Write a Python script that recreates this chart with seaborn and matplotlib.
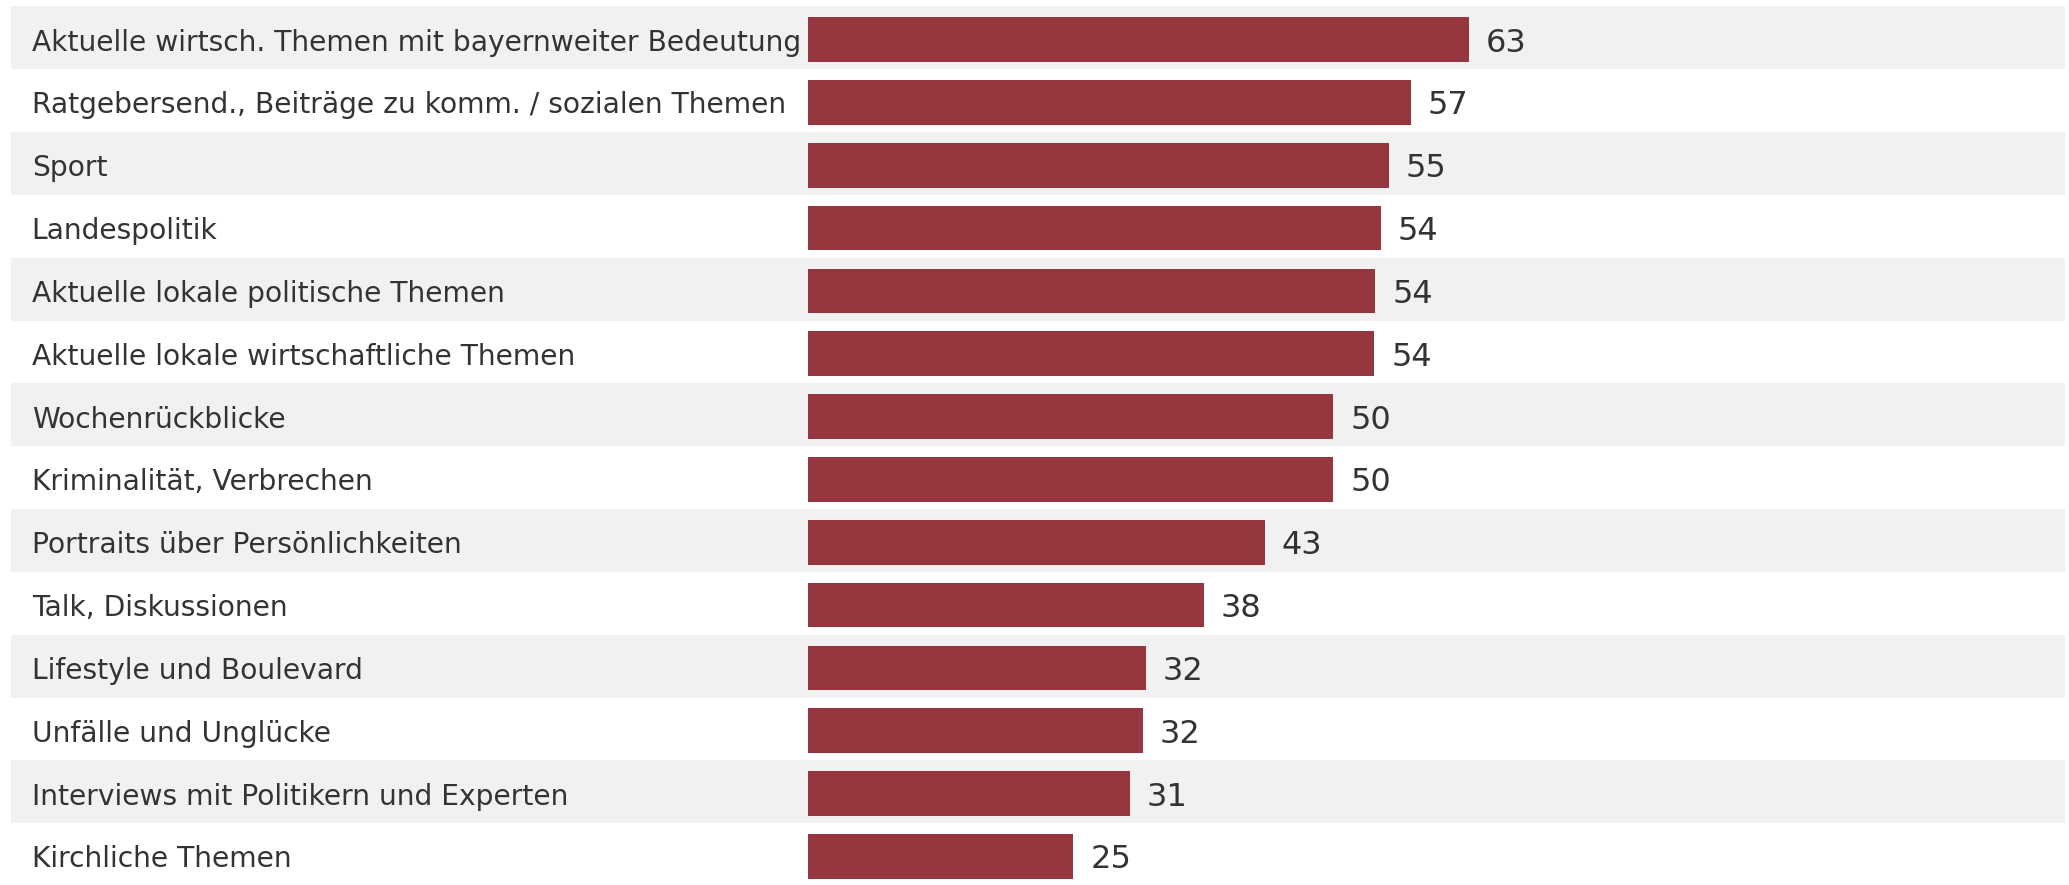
import numpy as np
import pandas as pd
import matplotlib
matplotlib.use('Agg')
import matplotlib.pyplot as plt
import seaborn as sns

# Daten aus der Vorlage (Balkenlängen aus dem Bild geschätzt, Beschriftung gerundet)
themen = [
    'Aktuelle wirtsch. Themen mit bayernweiter Bedeutung',
    'Ratgebersend., Beiträge zu komm. / sozialen Themen',
    'Sport',
    'Landespolitik',
    'Aktuelle lokale politische Themen',
    'Aktuelle lokale wirtschaftliche Themen',
    'Wochenrückblicke',
    'Kriminalität, Verbrechen',
    'Portraits über Persönlichkeiten',
    'Talk, Diskussionen',
    'Lifestyle und Boulevard',
    'Unfälle und Unglücke',
    'Interviews mit Politikern und Experten',
    'Kirchliche Themen',
]
werte = [62.8, 57.3, 55.2, 54.4, 53.9, 53.8, 49.9, 49.9, 43.4, 37.6, 32.1, 31.8, 30.6, 25.2]
labels = ['63', '57', '55', '54', '54', '54', '50', '50', '43', '38', '32', '32', '31', '25']

bar_color = '#96363F'
band_color = '#F1F1F1'
text_color = '#333333'

sns.set_style('white')
plt.rcParams['font.family'] = ['DejaVu Sans']

df = pd.DataFrame({'thema': themen, 'wert': werte})

fig = plt.figure(figsize=(20.69, 8.85), dpi=100)
ax = fig.add_axes([0, 0, 1, 1])

# graue Streifen für jede zweite Zeile
for i in range(len(themen)):
    if i % 2 == 0:
        ax.axhspan(i - 0.528, i + 0.472, xmin=0.0051, xmax=0.998,
                   color=band_color, lw=0, zorder=0)

sns.barplot(data=df, x='wert', y='thema', orient='h', color=bar_color,
            saturation=1, width=0.711, linewidth=0, ax=ax, zorder=2)

for i, (t, v, lab) in enumerate(zip(themen, werte, labels)):
    ax.text(0.0153, i, t, transform=ax.get_yaxis_transform(),
            ha='left', va='center_baseline', fontsize=20.25, color=text_color)
    ax.text(v + 1.6, i, lab, ha='left', va='center_baseline',
            fontsize=23, color=text_color)

ax.set_xlim(-76.83, 119.84)
ax.set_ylim(13.455, -0.631)
ax.set_xlabel('')
ax.set_ylabel('')
ax.set_xticks([])
ax.set_yticks([])
for s in ax.spines.values():
    s.set_visible(False)

fig.savefig('out.png', dpi=100)
